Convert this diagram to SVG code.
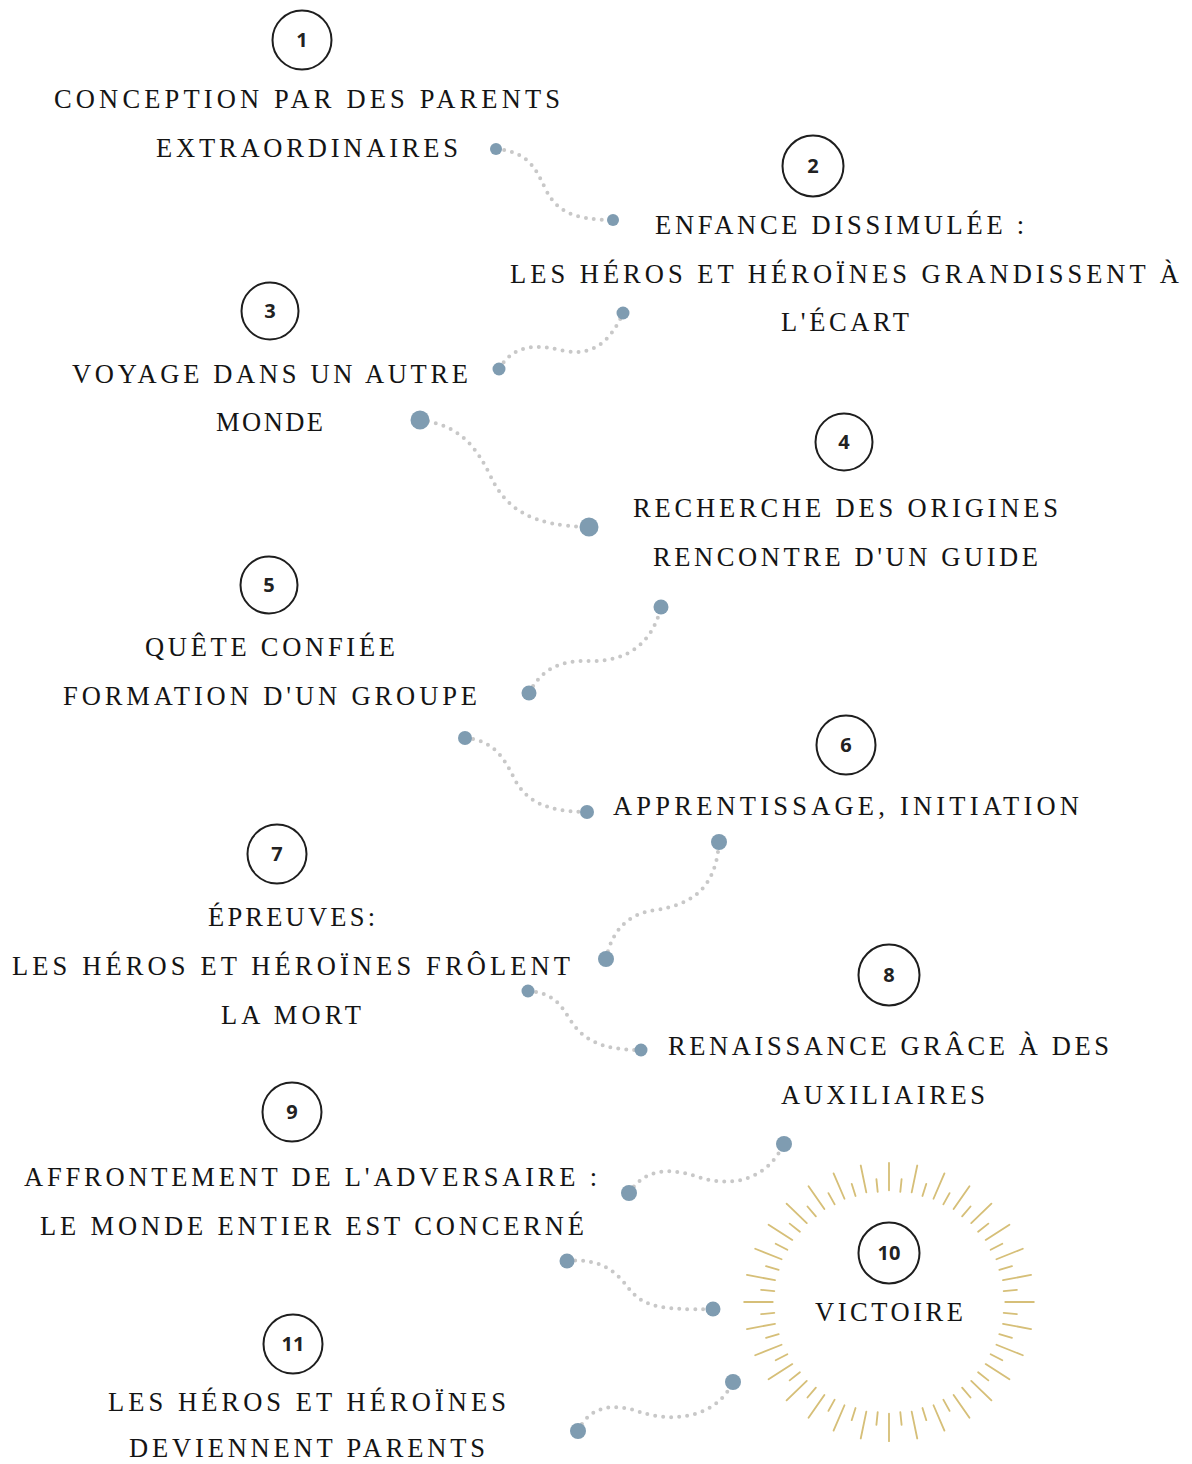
<svg xmlns="http://www.w3.org/2000/svg" xmlns:xlink="http://www.w3.org/1999/xlink" width="1192" height="1464" viewBox="0 0 1192 1464">
<style>
.bg{fill:#ffffff}
.num{fill:#ffffff;stroke:#1e1e1e;stroke-width:2}
.numt{font-family:"Open Sans","Liberation Sans",sans-serif;font-weight:700;font-size:20px;fill:#222;text-anchor:middle}
.lbl{font-family:"Liberation Serif","Times New Roman",serif;font-size:26.5px;fill:#141414}
.conn{fill:none;stroke:#c8c8c8;stroke-width:4;stroke-linecap:round;stroke-dasharray:0 8}
.dot{fill:#7f9cb1}
.ray{stroke:#d6bf78;stroke-width:1.8;stroke-linecap:round}
</style>
<defs>
<line id="rl" class="ray" x1="0" y1="-114" x2="0" y2="-142"/>
<line id="rs" class="ray" x1="0" y1="-113" x2="0" y2="-126"/>
</defs>
<rect class="bg" x="0" y="0" width="1192" height="1464"/>

<g id="sunburst" transform="translate(889,1302) scale(1.02,0.98)">
<use xlink:href="#rl" transform="rotate(0)"/><use xlink:href="#rl" transform="rotate(11.25)"/><use xlink:href="#rl" transform="rotate(22.5)"/><use xlink:href="#rl" transform="rotate(33.75)"/>
<use xlink:href="#rl" transform="rotate(45)"/><use xlink:href="#rl" transform="rotate(56.25)"/><use xlink:href="#rl" transform="rotate(67.5)"/><use xlink:href="#rl" transform="rotate(78.75)"/>
<use xlink:href="#rl" transform="rotate(90)"/><use xlink:href="#rl" transform="rotate(101.25)"/><use xlink:href="#rl" transform="rotate(112.5)"/><use xlink:href="#rl" transform="rotate(123.75)"/>
<use xlink:href="#rl" transform="rotate(135)"/><use xlink:href="#rl" transform="rotate(146.25)"/><use xlink:href="#rl" transform="rotate(157.5)"/><use xlink:href="#rl" transform="rotate(168.75)"/>
<use xlink:href="#rl" transform="rotate(180)"/><use xlink:href="#rl" transform="rotate(191.25)"/><use xlink:href="#rl" transform="rotate(202.5)"/><use xlink:href="#rl" transform="rotate(213.75)"/>
<use xlink:href="#rl" transform="rotate(225)"/><use xlink:href="#rl" transform="rotate(236.25)"/><use xlink:href="#rl" transform="rotate(247.5)"/><use xlink:href="#rl" transform="rotate(258.75)"/>
<use xlink:href="#rl" transform="rotate(270)"/><use xlink:href="#rl" transform="rotate(281.25)"/><use xlink:href="#rl" transform="rotate(292.5)"/><use xlink:href="#rl" transform="rotate(303.75)"/>
<use xlink:href="#rl" transform="rotate(315)"/><use xlink:href="#rl" transform="rotate(326.25)"/><use xlink:href="#rl" transform="rotate(337.5)"/><use xlink:href="#rl" transform="rotate(348.75)"/>
<use xlink:href="#rs" transform="rotate(5.625)"/><use xlink:href="#rs" transform="rotate(16.875)"/><use xlink:href="#rs" transform="rotate(28.125)"/><use xlink:href="#rs" transform="rotate(39.375)"/>
<use xlink:href="#rs" transform="rotate(50.625)"/><use xlink:href="#rs" transform="rotate(61.875)"/><use xlink:href="#rs" transform="rotate(73.125)"/><use xlink:href="#rs" transform="rotate(84.375)"/>
<use xlink:href="#rs" transform="rotate(95.625)"/><use xlink:href="#rs" transform="rotate(106.875)"/><use xlink:href="#rs" transform="rotate(118.125)"/><use xlink:href="#rs" transform="rotate(129.375)"/>
<use xlink:href="#rs" transform="rotate(140.625)"/><use xlink:href="#rs" transform="rotate(151.875)"/><use xlink:href="#rs" transform="rotate(163.125)"/><use xlink:href="#rs" transform="rotate(174.375)"/>
<use xlink:href="#rs" transform="rotate(185.625)"/><use xlink:href="#rs" transform="rotate(196.875)"/><use xlink:href="#rs" transform="rotate(208.125)"/><use xlink:href="#rs" transform="rotate(219.375)"/>
<use xlink:href="#rs" transform="rotate(230.625)"/><use xlink:href="#rs" transform="rotate(241.875)"/><use xlink:href="#rs" transform="rotate(253.125)"/><use xlink:href="#rs" transform="rotate(264.375)"/>
<use xlink:href="#rs" transform="rotate(275.625)"/><use xlink:href="#rs" transform="rotate(286.875)"/><use xlink:href="#rs" transform="rotate(298.125)"/><use xlink:href="#rs" transform="rotate(309.375)"/>
<use xlink:href="#rs" transform="rotate(320.625)"/><use xlink:href="#rs" transform="rotate(331.875)"/><use xlink:href="#rs" transform="rotate(343.125)"/><use xlink:href="#rs" transform="rotate(354.375)"/>
</g>

<g id="connectors">
<path class="conn" d="M496,149 C530,152 536,170 546,190 C556,210 572,220 613,220"/>
<path class="conn" d="M499,369 C515,342 540,345 565,351 C595,357 612,338 623,313"/>
<path class="conn" d="M420,420 C460,425 476,447 490,475 C505,508 530,526 589,527"/>
<path class="conn" d="M529,693 C542,668 562,660 590,661 C625,662 652,645 661,607"/>
<path class="conn" d="M465,738 C495,740 505,760 515,780 C526,800 545,812 587,812"/>
<path class="conn" d="M606,959 C612,930 628,914 655,910 C690,905 716,890 719,842"/>
<path class="conn" d="M528,991 C555,993 561,1006 571,1021 C583,1040 602,1050 641,1050"/>
<path class="conn" d="M629,1193 C645,1168 670,1168 695,1176 C730,1188 765,1182 784,1144"/>
<path class="conn" d="M567,1261 C600,1258 615,1270 630,1290 C645,1308 665,1310 713,1309"/>
<path class="conn" d="M578,1431 C590,1405 615,1403 640,1412 C670,1422 715,1420 733,1382"/>
<circle class="dot" cx="496" cy="149" r="6"/><circle class="dot" cx="613" cy="220" r="6"/>
<circle class="dot" cx="623" cy="313" r="6.5"/><circle class="dot" cx="499" cy="369" r="6.5"/>
<circle class="dot" cx="420" cy="420" r="9.5"/><circle class="dot" cx="589" cy="527" r="9.5"/>
<circle class="dot" cx="661" cy="607" r="7.5"/><circle class="dot" cx="529" cy="693" r="7.5"/>
<circle class="dot" cx="465" cy="738" r="7"/><circle class="dot" cx="587" cy="812" r="7"/>
<circle class="dot" cx="719" cy="842" r="8"/><circle class="dot" cx="606" cy="959" r="8"/>
<circle class="dot" cx="528" cy="991" r="6.5"/><circle class="dot" cx="641" cy="1050" r="6.5"/>
<circle class="dot" cx="784" cy="1144" r="8"/><circle class="dot" cx="629" cy="1193" r="8"/>
<circle class="dot" cx="567" cy="1261" r="7.5"/><circle class="dot" cx="713" cy="1309" r="7.5"/>
<circle class="dot" cx="733" cy="1382" r="8"/><circle class="dot" cx="578" cy="1431" r="8"/>
</g>

<g id="node1">
<circle class="num" cx="302" cy="40" r="29.5"/><text class="numt" x="302" y="47">1</text>
<text class="lbl" x="54" y="108" textLength="506" lengthAdjust="spacing">CONCEPTION PAR DES PARENTS</text>
<text class="lbl" x="156" y="157" textLength="302" lengthAdjust="spacing">EXTRAORDINAIRES</text>
</g>
<g id="node2">
<circle class="num" cx="813" cy="166" r="30.5"/><text class="numt" x="813" y="173">2</text>
<text class="lbl" x="655" y="234" textLength="369" lengthAdjust="spacing">ENFANCE DISSIMULÉE :</text>
<text class="lbl" x="510" y="283" textLength="669" lengthAdjust="spacing">LES HÉROS ET HÉROÏNES GRANDISSENT À</text>
<text class="lbl" x="781" y="331" textLength="128" lengthAdjust="spacing">L'ÉCART</text>
</g>
<g id="node3">
<circle class="num" cx="270" cy="311" r="28.5"/><text class="numt" x="270" y="318">3</text>
<text class="lbl" x="72" y="383" textLength="396" lengthAdjust="spacing">VOYAGE DANS UN AUTRE</text>
<text class="lbl" x="216" y="431" textLength="107" lengthAdjust="spacing">MONDE</text>
</g>
<g id="node4">
<circle class="num" cx="844" cy="442" r="28.5"/><text class="numt" x="844" y="449">4</text>
<text class="lbl" x="633" y="517" textLength="425" lengthAdjust="spacing">RECHERCHE DES ORIGINES</text>
<text class="lbl" x="653" y="566" textLength="385" lengthAdjust="spacing">RENCONTRE D'UN GUIDE</text>
</g>
<g id="node5">
<circle class="num" cx="269" cy="585" r="28.5"/><text class="numt" x="269" y="592">5</text>
<text class="lbl" x="145" y="656" textLength="250" lengthAdjust="spacing">QUÊTE CONFIÉE</text>
<text class="lbl" x="63" y="705" textLength="414" lengthAdjust="spacing">FORMATION D'UN GROUPE</text>
</g>
<g id="node6">
<circle class="num" cx="846" cy="745" r="29.5"/><text class="numt" x="846" y="752">6</text>
<text class="lbl" x="613" y="815" textLength="466" lengthAdjust="spacing">APPRENTISSAGE, INITIATION</text>
</g>
<g id="node7">
<circle class="num" cx="277" cy="854" r="29.5"/><text class="numt" x="277" y="861">7</text>
<text class="lbl" x="208" y="926" textLength="167" lengthAdjust="spacing">ÉPREUVES:</text>
<text class="lbl" x="12" y="975" textLength="558" lengthAdjust="spacing">LES HÉROS ET HÉROÏNES FRÔLENT</text>
<text class="lbl" x="221" y="1024" textLength="140" lengthAdjust="spacing">LA MORT</text>
</g>
<g id="node8">
<circle class="num" cx="889" cy="975" r="30.5"/><text class="numt" x="889" y="982">8</text>
<text class="lbl" x="668" y="1055" textLength="441" lengthAdjust="spacing">RENAISSANCE GRÂCE À DES</text>
<text class="lbl" x="781" y="1104" textLength="204" lengthAdjust="spacing">AUXILIAIRES</text>
</g>
<g id="node9">
<circle class="num" cx="292" cy="1112" r="29.5"/><text class="numt" x="292" y="1119">9</text>
<text class="lbl" x="24" y="1186" textLength="573" lengthAdjust="spacing">AFFRONTEMENT DE L'ADVERSAIRE :</text>
<text class="lbl" x="40" y="1235" textLength="544" lengthAdjust="spacing">LE MONDE ENTIER EST CONCERNÉ</text>
</g>
<g id="node10">
<circle class="num" cx="889" cy="1253" r="30.5"/><text class="numt" x="889" y="1260">10</text>
<text class="lbl" x="815" y="1321" textLength="148" lengthAdjust="spacing">VICTOIRE</text>
</g>
<g id="node11">
<circle class="num" cx="293" cy="1344" r="29.5"/><text class="numt" x="293" y="1351">11</text>
<text class="lbl" x="108" y="1411" textLength="398" lengthAdjust="spacing">LES HÉROS ET HÉROÏNES</text>
<text class="lbl" x="129" y="1457" textLength="356" lengthAdjust="spacing">DEVIENNENT PARENTS</text>
</g>
</svg>
